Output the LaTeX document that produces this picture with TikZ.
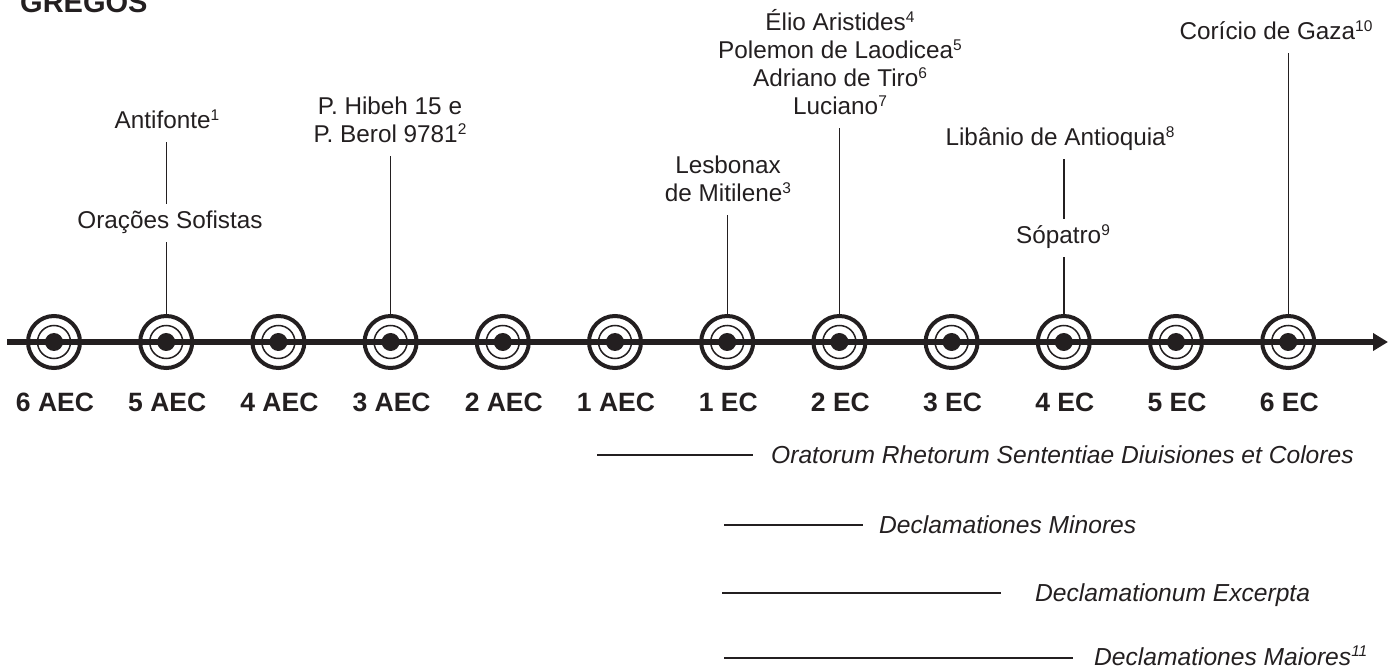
\documentclass[tikz,border=0pt]{standalone}
\usepackage{fontspec}
\setmainfont{Liberation Sans}
\usetikzlibrary{arrows.meta}
\definecolor{ink}{RGB}{35,31,32}
% footnote call, raised small figures
\newcommand\nota[1]{\raisebox{8.5pt}{\fontsize{15.5}{15.5}\selectfont #1}}

\begin{document}
\begin{tikzpicture}[x=1pt,y=-1pt,
  era/.style={circle, draw=ink, line width=4pt, minimum size=52pt, inner sep=0pt,
    path picture={
      \draw[ink, line width=1.5pt] (path picture bounding box.center) circle[radius=16.5pt];
      \fill[ink] (path picture bounding box.center) circle[radius=9pt];}},
  eralabel/.style={font=\fontsize{26.5}{28}\selectfont\bfseries, text=ink, anchor=base, inner sep=0pt},
  autor/.style={font=\fontsize{24.3}{28}\selectfont, text=ink, align=center, anchor=south,
    inner xsep=2pt, inner ysep=5pt},
  obra/.style={font=\fontsize{24.6}{28}\selectfont\itshape, text=ink, anchor=base west, inner sep=0pt},
  haste/.style={draw=ink, line width=1.4pt},
  periodo/.style={draw=ink, line width=2.5pt},
  eixo/.style={draw=ink, line width=5.5pt, -{Triangle[length=15pt,width=17pt]}},
]
\useasboundingbox (0,0) rectangle (1398,668);
\clip (0,0) rectangle (1398,668);

% heading
\node[font=\fontsize{29}{30}\selectfont\bfseries, text=ink, anchor=base west, inner sep=0pt]
  (titulo) at (20,13) {GREGOS};

% time axis
\coordinate (inicio) at (7,342);
\coordinate (fim) at (1388,342);
\draw[eixo] (inicio) -- (fim);

% centuries
\foreach \lab [count=\k] in {6 AEC,5 AEC,4 AEC,3 AEC,2 AEC,1 AEC,1 EC,2 EC,3 EC,4 EC,5 EC,6 EC} {
  \node[era] (c\k) at ({54+(\k-1)*112.2},342) {};
  \node[eralabel] (r\k) at ({55+(\k-1)*112.2},411.5) {\lab};
}

% authors and texts above the axis
\node[autor] (antifonte) at (167,142.4) {Antifonte\nota{1}\strut};
\node[autor] (oracoes) at (170,242.4) {Orações Sofistas\strut};
\node[autor] (papiros) at (390,156.4) {P. Hibeh 15 e\strut\\P. Berol 9781\nota{2}\strut};
\node[autor] (lesbonax) at (728,215.4) {Lesbonax\strut\\de Mitilene\nota{3}\strut};
\node[autor] (elio) at (840,128.4) {Élio Aristides\nota{4}\strut\\Polemon de Laodicea\nota{5}\strut\\Adriano de Tiro\nota{6}\strut\\Luciano\nota{7}\strut};
\node[autor] (libanio) at (1060,159.4) {Libânio de Antioquia\nota{8}\strut};
\node[autor] (sopatro) at (1063,257.4) {Sópatro\nota{9}\strut};
\node[autor] (coricio) at (1276,53.4) {Corício de Gaza\nota{10}\strut};

% stems down to the axis
\draw[haste] (c2.north |- antifonte.south) -- (c2.north |- oracoes.north);
\draw[haste] (c2.north |- oracoes.south) -- (c2.north);
\draw[haste] (c4.north |- papiros.south) -- (c4.north);
\draw[haste] (c7.north |- lesbonax.south) -- (c7.north);
\draw[haste] (c8.north |- elio.south) -- (c8.north);
\draw[haste] (c10.north |- libanio.south) -- (c10.north |- sopatro.north);
\draw[haste] (c10.north |- sopatro.south) -- (c10.north);
\draw[haste] (c12.north |- coricio.south) -- (c12.north);

% Latin collections and their spans
\coordinate (p1a) at (597,455); \coordinate (p1b) at (753,455);
\draw[periodo] (p1a) -- (p1b);
\node[obra] (oratorum) at (771,463) {Oratorum Rhetorum Sententiae Diuisiones et Colores};

\coordinate (p2a) at (724,525); \coordinate (p2b) at (863,525);
\draw[periodo] (p2a) -- (p2b);
\node[obra] (minores) at (879,533) {Declamationes Minores};

\coordinate (p3a) at (722,593); \coordinate (p3b) at (1001,593);
\draw[periodo] (p3a) -- (p3b);
\node[obra] (excerpta) at (1035,601) {Declamationum Excerpta};

\coordinate (p4a) at (724,658); \coordinate (p4b) at (1073,658);
\draw[periodo] (p4a) -- (p4b);
\node[obra] (maiores) at (1094,665) {Declamationes Maiores\nota{11}};
\end{tikzpicture}
\end{document}
